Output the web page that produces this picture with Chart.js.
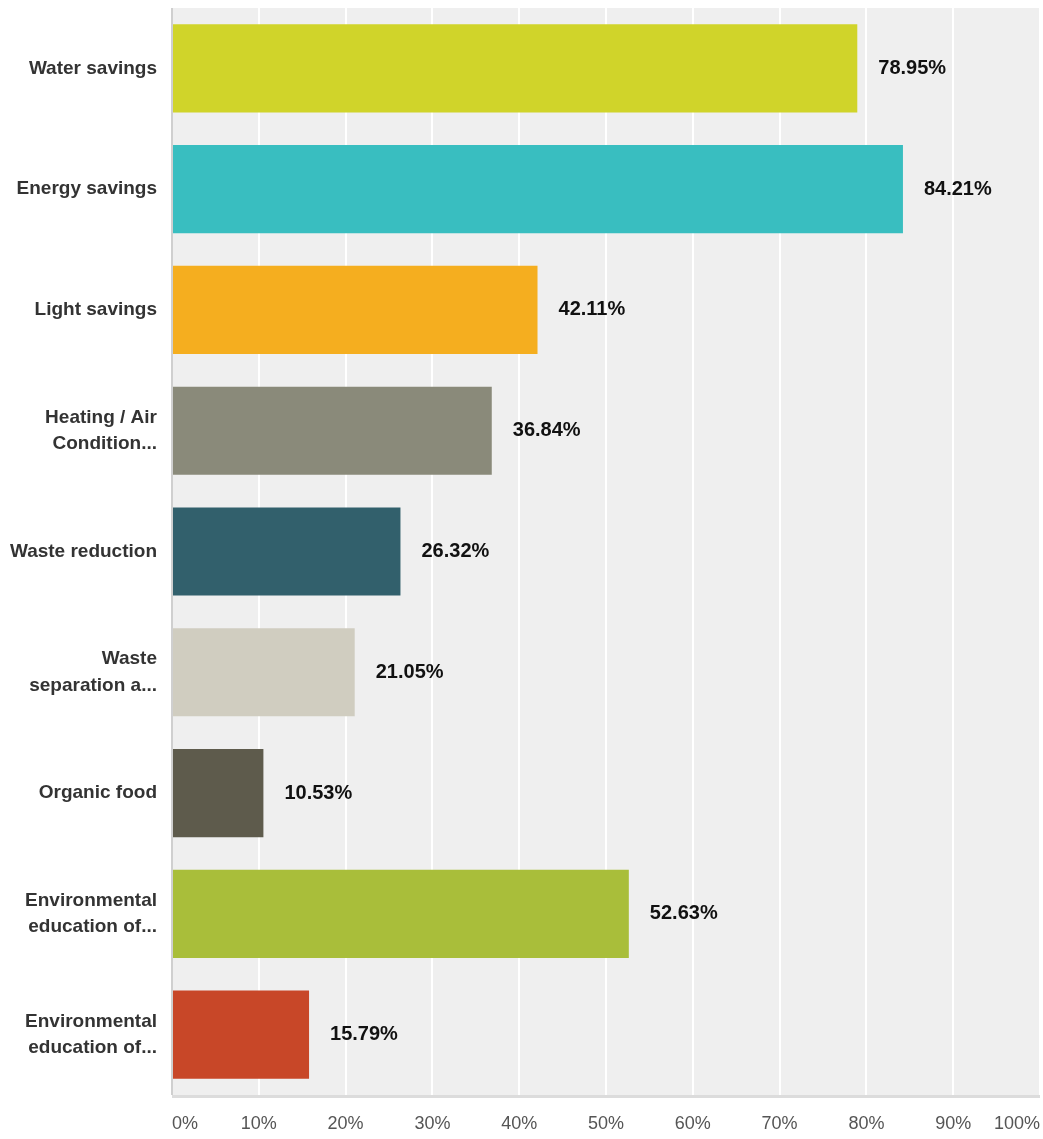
<!DOCTYPE html>
<html>
<head>
<meta charset="utf-8">
<script src="https://cdn.jsdelivr.net/npm/chart.js@4"></script>
<style>
  html, body { margin: 0; padding: 0; background: #fff; }
  #wrap { width: 1043px; height: 1139px; }
</style>
</head>
<body>
<div id="wrap"><canvas id="myChart" width="1043" height="1139"></canvas></div>
<script>
const categories = [
    'Water savings',
    'Energy savings',
    'Light savings',
    ['Heating / Air', 'Condition...'],
    'Waste reduction',
    ['Waste', 'separation a...'],
    'Organic food',
    ['Environmental', 'education of...'],
    ['Environmental', 'education of...']
];
const values = [78.95, 84.21, 42.11, 36.84, 26.32, 21.05, 10.53, 52.63, 15.79];
const barColors = ['#d0d42a', '#39bec0', '#f5ae1f', '#8a8a7a', '#32606c', '#d0cdc0', '#5e5b4c', '#a9be3a', '#c84728'];
const tickValues = [0, 10, 20, 30, 40, 50, 60, 70, 80, 90, 100];

const FONT = 'Arial, "Liberation Sans", Helvetica, sans-serif';

// gray plot background + value labels
const plotBg = {
    id: 'plotBg',
    beforeDraw(chart) {
        const a = chart.chartArea, ctx = chart.ctx;
        ctx.save();
        ctx.fillStyle = '#efefef';
        ctx.fillRect(a.left, a.top, a.right - a.left, a.bottom - a.top);
        ctx.restore();
    },
    afterDatasetsDraw(chart) {
        const ctx = chart.ctx, a = chart.chartArea;
        const meta = chart.getDatasetMeta(0);
        ctx.save();
        // bottom and left borders
        ctx.fillStyle = '#dcdcdc';
        ctx.fillRect(a.left, a.bottom, a.right - a.left, 3);
        ctx.fillStyle = '#cfcfcf';
        ctx.fillRect(a.left - 1, a.top, 2, a.bottom - a.top);
        ctx.font = 'bold 20px ' + FONT;
        ctx.fillStyle = '#111';
        ctx.textBaseline = 'middle';
        meta.data.forEach(function (bar, i) {
            ctx.fillText(values[i].toFixed(2) + '%', bar.x + 21, bar.y);
        });
        ctx.restore();
    }
};

const data = {
    labels: categories,
    datasets: [{
        data: values,
        backgroundColor: barColors,
        borderWidth: 0,
        barPercentage: 0.73,
        categoryPercentage: 1
    }]
};

const config = {
    type: 'bar',
    data,
    options: {
        indexAxis: 'y',
        responsive: false,
        animation: false,
        layout: { padding: { top: 8, right: 3 } },
        plugins: { legend: { display: false }, tooltip: { enabled: false } },
        scales: {
            x: {
                min: 0,
                max: 100,
                afterBuildTicks(axis) { axis.ticks = tickValues.map(v => ({ value: v })); },
                afterFit(axis) {
                    axis.height = 44;
                    axis.paddingLeft = 0;
                    axis.paddingRight = 0;
                },
                grid: { color: '#ffffff', lineWidth: 2, drawTicks: false },
                border: { display: false },
                ticks: {
                    align: 'inner',
                    padding: 18,
                    color: '#555',
                    font: { family: FONT, size: 18 },
                    callback: v => v + '%'
                }
            },
            y: {
                afterFit(axis) {
                    axis.width = 172;
                    axis.paddingTop = 0;
                    axis.paddingBottom = 0;
                },
                grid: { display: false },
                border: { display: false },
                ticks: {
                    padding: 7,
                    color: '#333',
                    font: { family: FONT, size: 19, weight: 'bold', lineHeight: 1.4 }
                }
            }
        }
    },
    plugins: [plotBg]
};

new Chart(document.getElementById('myChart'), config);
</script>
</body>
</html>
